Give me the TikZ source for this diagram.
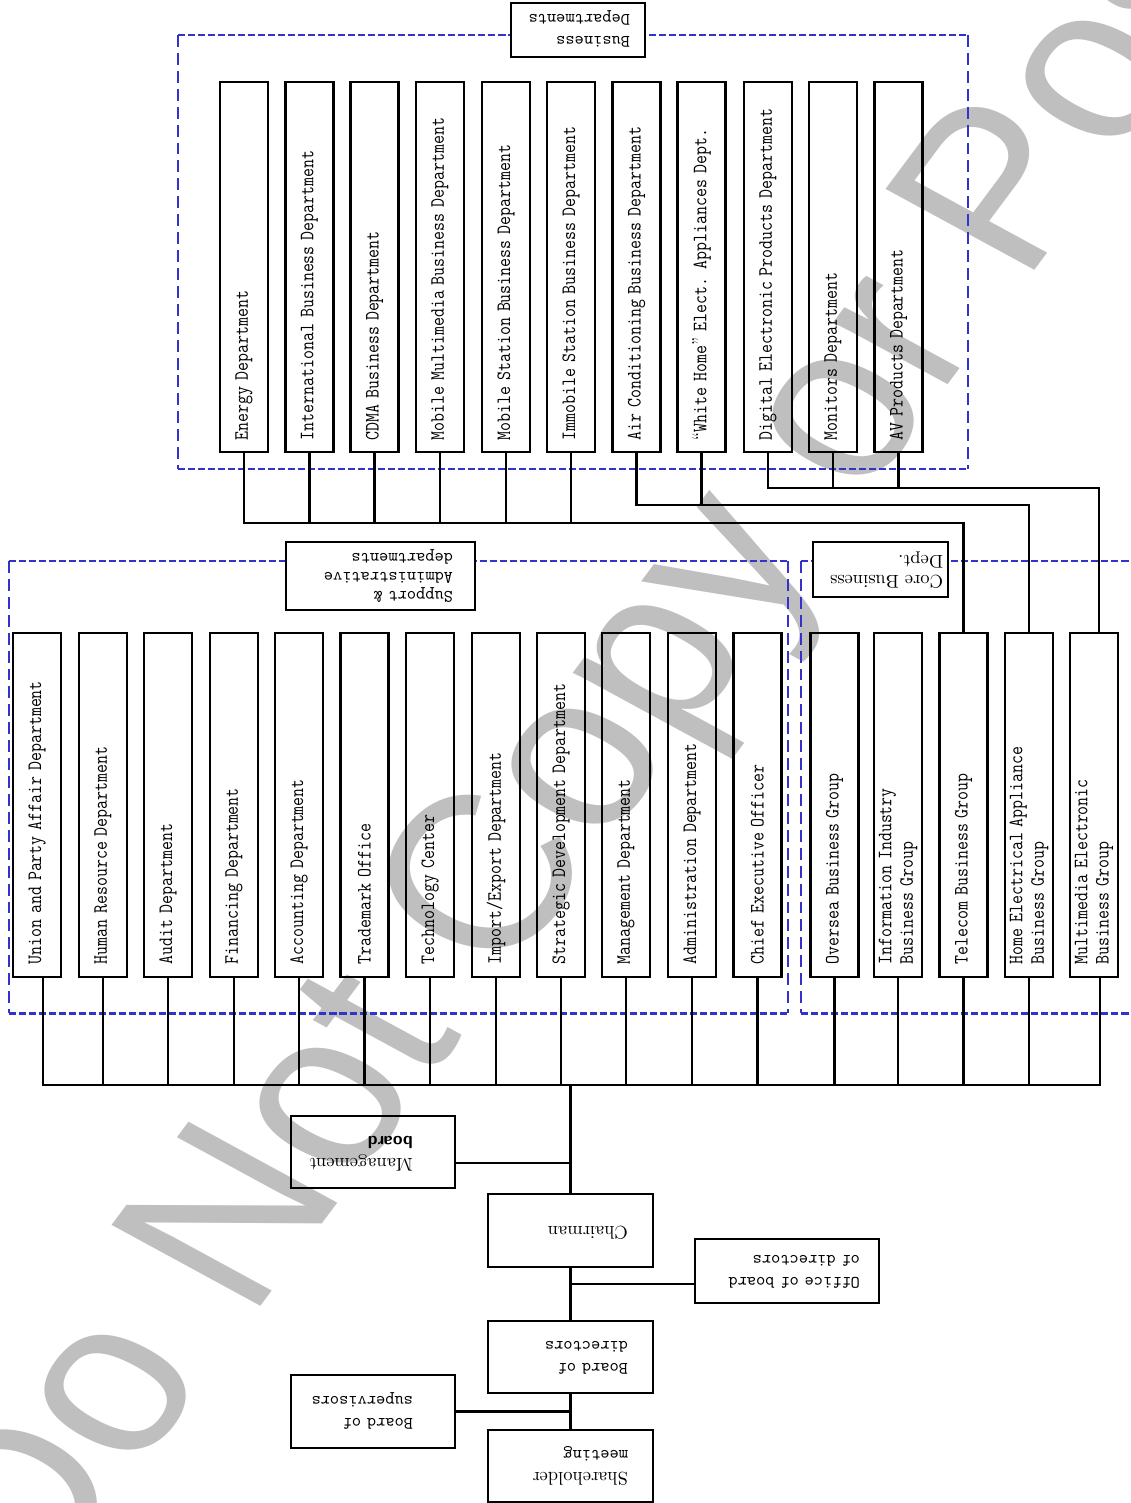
\documentclass[tikz,border=0pt]{standalone}
\usepackage{fontspec}
\usepackage{graphicx}
\newfontfamily\markfont{Liberation Sans}
\definecolor{frameblue}{RGB}{51,51,204}

% text turned upside down, lines flush at their start
\newcommand{\flip}[2][0pt]{\rotatebox[origin=c]{180}{\begin{tabular}{@{}l@{}}#2\end{tabular}}\kern#1}

\tikzset{
  link/.style={line width=1.4pt},
  rowbox/.style={draw, line width=1.4pt, yscale=0.854, rotate=90, align=left,
    minimum height=0.96cm, inner ysep=0pt, font=\fontsize{11.6}{12.2}\selectfont\ttfamily},
  topbox/.style={rowbox, text width=8.11cm, inner xsep=0.28cm},
  midbox/.style={rowbox, text width=7.46cm, inner xsep=0.3cm},
  tagbox/.style={draw, line width=1.4pt, fill=white, align=right, inner ysep=0pt},
  govbox/.style={draw, line width=1.4pt, align=right, inner ysep=0pt, inner xsep=0.1cm,
    font=\fontsize{10}{12.5}\selectfont\ttfamily},
  frameh/.style={draw=frameblue, line width=1.7pt, dash pattern=on 4pt off 1.7pt},
  framev/.style={draw=frameblue, line width=1.5pt, dash pattern=on 6.8pt off 3.4pt},
  watermark/.style={text=black!25, inner sep=0pt, font=\fontsize{146}{146}\selectfont\markfont}
}

\begin{document}
\begin{tikzpicture}[x=0.02cm, y=-0.02cm]
  \useasboundingbox (0,0) rectangle (1131,1503);
  \clip (0,0) rectangle (1131,1503);

  % Watermark, under everything else
  \begin{scope}[shift={(35,1609.5)}, yscale=0.854]
    \node[watermark, transform shape, rotate=57.5, anchor=base west] (stamp) at (0,0) {Do Not Copy or Post};
  \end{scope}

  % Dashed group frames
  \draw[frameh] (178,35) -- (968,35) (178,469) -- (968,469);
  \draw[framev] (178,35) -- (178,469) (968,35) -- (968,469);
  \draw[frameh] (9,561) -- (788,561) (9,1013) -- (788,1013);
  \draw[framev] (9,561) -- (9,1013) (788,561) -- (788,1013);
  \draw[frameh] (801,561) -- (1140,561) (801,1013) -- (1140,1013);
  \draw[framev] (801,561) -- (801,1013);

  % Group tags
  \node[tagbox, text width=2.08cm, inner xsep=0.3cm, minimum height=1.08cm,
        font=\fontsize{10}{12.5}\selectfont\ttfamily] (bustag) at (578,30)
    {\flip{Business\\Departments}};
  \node[tagbox, text width=2.9cm, inner xsep=0.44cm, minimum height=1.36cm,
        font=\fontsize{10}{10.8}\selectfont\ttfamily] (suptag) at (380.5,576)
    {\flip{Support \&\\Administrative\\departments}};
  \node[tagbox, text width=2.5cm, inner xsep=0.1cm, minimum height=1.1cm,
        font=\fontsize{10.5}{11.5}\selectfont\rmfamily] (coretag) at (880.5,569.5)
    {\flip{Core Business\\Dept.}};

  % Business departments
  \node[topbox] (en)   at (244,267)   {Energy Department};
  \node[topbox] (intl) at (309.5,267) {International Business Department};
  \node[topbox] (cdma) at (374.5,267) {CDMA Business Department};
  \node[topbox] (mmb)  at (440,267)   {Mobile Multimedia Business Department};
  \node[topbox] (msb)  at (506,267)   {Mobile Station Business Department};
  \node[topbox] (isb)  at (571,267)   {Immobile Station Business Department};
  \node[topbox] (acb)  at (636.5,267) {Air Conditioning Business Department};
  \node[topbox] (whd)  at (701.5,267) {{\rmfamily``}White Home{\rmfamily''} Elect. Appliances Dept.};
  \node[topbox] (dep)  at (768,267)   {Digital Electronic Products Department};
  \node[topbox] (mon)  at (833,267)   {Monitors Department};
  \node[topbox] (avp)  at (898.5,267) {AV Products Department};

  % Support & administrative departments
  \node[midbox] (upa) at (37,805)    {Union and Party Affair Department};
  \node[midbox] (hrd) at (103,805)   {Human Resource Department};
  \node[midbox] (aud) at (168,805)   {Audit Department};
  \node[midbox] (fin) at (234,805)   {Financing Department};
  \node[midbox] (acc) at (299,805)   {Accounting Department};
  \node[midbox] (tmo) at (364.5,805) {Trademark Office};
  \node[midbox] (tec) at (430,805)   {Technology Center};
  \node[midbox] (imx) at (496,805)   {Import/Export Department};
  \node[midbox] (sdd) at (561,805)   {Strategic Development Department};
  \node[midbox] (mgd) at (626,805)   {Management Department};
  \node[midbox] (adm) at (692,805)   {Administration Department};
  \node[midbox] (ceo) at (757.5,805) {Chief Executive Officer};

  % Core business groups
  \node[midbox] (obg)   at (834.5,805) {Oversea Business Group};
  \node[midbox] (iibg)  at (898,805)   {Information Industry\\Business Group};
  \node[midbox] (tbg)   at (963.5,805) {Telecom Business Group};
  \node[midbox] (heabg) at (1029,805)  {Home Electrical Appliance\\Business Group};
  \node[midbox] (mebg)  at (1094,805)  {Multimedia Electronic\\Business Group};

  % Governance
  \node[govbox, text width=3.08cm, minimum height=1.44cm] (mgmt) at (373,1152)
    {\flip[0.74cm]{\rmfamily\fontsize{10.5}{12.5}\selectfont Management\\\sffamily\bfseries board}};
  \node[govbox, text width=3.1cm, minimum height=1.46cm] (chair) at (570.5,1230.5)
    {\flip[0.4cm]{\rmfamily\fontsize{10.5}{12.5}\selectfont Chairman}};
  \node[govbox, text width=3.48cm, minimum height=1.28cm] (office) at (787,1271)
    {\flip[0.28cm]{Office of board\\of directors}};
  \node[govbox, text width=3.1cm, minimum height=1.44cm] (bod) at (570.5,1357)
    {\flip[0.4cm]{Board of\\directors}};
  \node[govbox, text width=3.08cm, minimum height=1.46cm] (sup) at (373,1411.5)
    {\flip[0.74cm]{Board of\\supervisors}};
  \node[govbox, text width=3.1cm, minimum height=1.44cm] (share) at (570.5,1466)
    {\flip[0.4cm]{\rmfamily\fontsize{10.5}{12.5}\selectfont Shareholder\\meeting}};

  % Bus levels and off-centre ports
  \coordinate (busA) at (0,523);
  \coordinate (busB) at (0,505);
  \coordinate (busC) at (0,488);
  \coordinate (busD) at (0,1085);
  \coordinate (upafoot) at ([xshift=0.12cm]upa.west);
  \coordinate (mebgtop) at ([xshift=0.1cm]mebg.east);
  \coordinate (mebgfoot) at ([xshift=0.12cm]mebg.west);

  % Business departments into the core groups
  \draw[link] (en.west) |- (tbg.east |- busA) -- (tbg.east);
  \draw[link] (intl.west) -- (intl.west |- busA) (cdma.west) -- (cdma.west |- busA)
    (mmb.west) -- (mmb.west |- busA) (msb.west) -- (msb.west |- busA)
    (isb.west) -- (isb.west |- busA);
  \draw[link] (acb.west) |- (heabg.east |- busB) -- (heabg.east);
  \draw[link] (whd.west) -- (whd.west |- busB);
  \draw[link] (dep.west) |- (mebgtop |- busC) -- (mebgtop);
  \draw[link] (mon.west) -- (mon.west |- busC) (avp.west) -- (avp.west |- busC);

  % Second row onto the main bus
  \draw[link] (upafoot) |- (mebgfoot |- busD) -- (mebgfoot);
  \draw[link] (hrd.west) -- (hrd.west |- busD) (aud.west) -- (aud.west |- busD)
    (fin.west) -- (fin.west |- busD) (acc.west) -- (acc.west |- busD)
    (tmo.west) -- (tmo.west |- busD) (tec.west) -- (tec.west |- busD)
    (imx.west) -- (imx.west |- busD) (sdd.west) -- (sdd.west |- busD)
    (mgd.west) -- (mgd.west |- busD) (adm.west) -- (adm.west |- busD)
    (ceo.west) -- (ceo.west |- busD) (obg.west) -- (obg.west |- busD)
    (iibg.west) -- (iibg.west |- busD) (tbg.west) -- (tbg.west |- busD)
    (heabg.west) -- (heabg.west |- busD);

  % Governance trunk
  \draw[link] (chair.north |- busD) -- (chair.north);
  \draw[link] (chair.south) -- (bod.north) (bod.south) -- (share.north);
  \coordinate (mgmtport) at ([yshift=-0.22cm]mgmt.east);
  \coordinate (officeport) at ([yshift=-0.26cm]office.west);
  \draw[link] (mgmtport) -- (mgmtport -| chair.north);
  \draw[link] (officeport) -- (officeport -| chair.south);
  \draw[link] (sup.east) -- (sup.east -| bod.south);
\end{tikzpicture}
\end{document}
